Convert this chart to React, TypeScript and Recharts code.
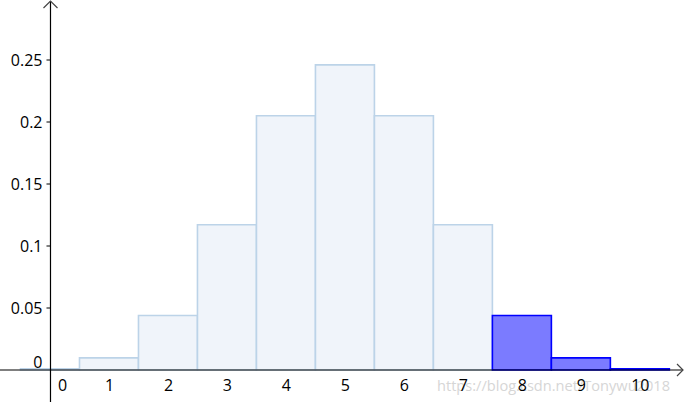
import { ComposedChart, Bar, Cell, XAxis, YAxis, ReferenceLine, Rectangle } from "recharts";

const ks = [0, 1, 2, 3, 4, 5, 6, 7, 8, 9, 10];
const probs = [0.001, 0.0098, 0.0439, 0.1172, 0.2051, 0.2461, 0.2051, 0.1172, 0.0439, 0.0098, 0.001];
const highlighted = [8, 9, 10];
const yTicks = [0, 0.05, 0.1, 0.15, 0.2, 0.25];
const xTicks = [0, 1, 2, 3, 4, 5, 6, 7, 8, 9, 10];

const W = 684;
const H = 402;
const X_MIN = -0.856;
const X_MAX = 10.74;
const Y_MIN = -0.0258;
const Y_MAX = 0.2984;

// pixel sizes derived from the domains
const unitX = W / (X_MAX - X_MIN);
const axisX = (0 - X_MIN) * unitX;
const axisY = ((Y_MAX - 0) / (Y_MAX - Y_MIN)) * H;

const data = ks.map((k, i) => ({ k, p: probs[i] }));

const FONT = "'Open Sans', sans-serif";

function XTick({ x, payload }: any) {
  const shift = payload.value === 0 ? 12 : 0;
  return (
    <text x={x + shift} y={axisY + 21} textAnchor="middle" fontSize={16} fontFamily={FONT} fill="#000">
      {payload.value}
    </text>
  );
}

function YTick({ y, payload }: any) {
  const shift = payload.value === 0 ? -8 : 0;
  return (
    <g>
      {payload.value !== 0 && <line x1={axisX - 4} x2={axisX} y1={y} y2={y} stroke="#000" strokeWidth={1} />}
      <text x={axisX - 8} y={y + shift} dy="0.36em" textAnchor="end" fontSize={16} fontFamily={FONT} fill="#000">
        {payload.value}
      </text>
    </g>
  );
}

function VAxisShape(props: any) {
  const x = props.x1;
  const top = Math.min(props.y1, props.y2);
  const bottom = Math.max(props.y1, props.y2);
  return (
    <g>
      <line x1={x} x2={x} y1={top + 1} y2={bottom} stroke="#000" strokeWidth={1.2} />
      <polyline points={`${x - 7},${top + 8} ${x},${top + 1} ${x + 7},${top + 8}`} fill="none" stroke="#444" strokeWidth={1.2} />
    </g>
  );
}

function HAxisShape(props: any) {
  const y = props.y1;
  const left = Math.min(props.x1, props.x2);
  const right = Math.max(props.x1, props.x2);
  return (
    <g>
      <line x1={left} x2={right - 1} y1={y} y2={y} stroke="#000" strokeWidth={1.2} />
      <polyline points={`${right - 7},${y - 6} ${right - 1},${y} ${right - 7},${y + 6}`} fill="none" stroke="#444" strokeWidth={1.2} />
    </g>
  );
}

// histogram bars: full unit width, centred on the value
function HistBar(props: any) {
  const cx = props.x + props.width / 2;
  return (
    <Rectangle
      x={cx - unitX / 2}
      y={props.y}
      width={unitX}
      height={props.height}
      fill={props.fill}
      stroke={props.stroke}
      strokeWidth={1.6}
    />
  );
}

export default function App() {
  return (
    <div style={{ position: "absolute", left: 0, top: 0, width: W, height: H, background: "#fff" }}>
      <div
        style={{
          position: "absolute",
          left: 437,
          top: 375,
          fontSize: 14.6,
          fontFamily: FONT,
          color: "#d6d6d6",
          whiteSpace: "nowrap",
        }}
      >
        https://blog.csdn.net/Tonywu2018
      </div>
      <div style={{ position: "absolute", left: 0, top: 0 }}>
        <ComposedChart
          width={W}
          height={H}
          data={data}
          margin={{ top: 0, right: 0, bottom: -1, left: -1 }}
          barCategoryGap={0}
          barGap={0}
        >
          <XAxis
            type="number"
            dataKey="k"
            domain={[X_MIN, X_MAX]}
            allowDataOverflow
            ticks={xTicks}
            interval={0}
            axisLine={false}
            tickLine={false}
            height={1}
            tick={(p: any) => <XTick {...p} />}
          />
          <YAxis
            type="number"
            domain={[Y_MIN, Y_MAX]}
            allowDataOverflow
            ticks={yTicks}
            interval={0}
            axisLine={false}
            tickLine={false}
            width={1}
            tick={(p: any) => <YTick {...p} />}
          />
          <ReferenceLine y={0} shape={<HAxisShape />} />
          <ReferenceLine x={0} shape={<VAxisShape />} />
          <Bar dataKey="p" barSize={40} isAnimationActive={false} shape={(p: any) => <HistBar {...p} />}>
            {data.map((d) => {
              const hi = highlighted.includes(d.k);
              return (
                <Cell
                  key={d.k}
                  fill={hi ? "#7b7bff" : "#f0f4fa"}
                  stroke={hi ? "#0000ff" : "#bcd3e8"}
                />
              );
            })}
          </Bar>
        </ComposedChart>
      </div>
    </div>
  );
}
